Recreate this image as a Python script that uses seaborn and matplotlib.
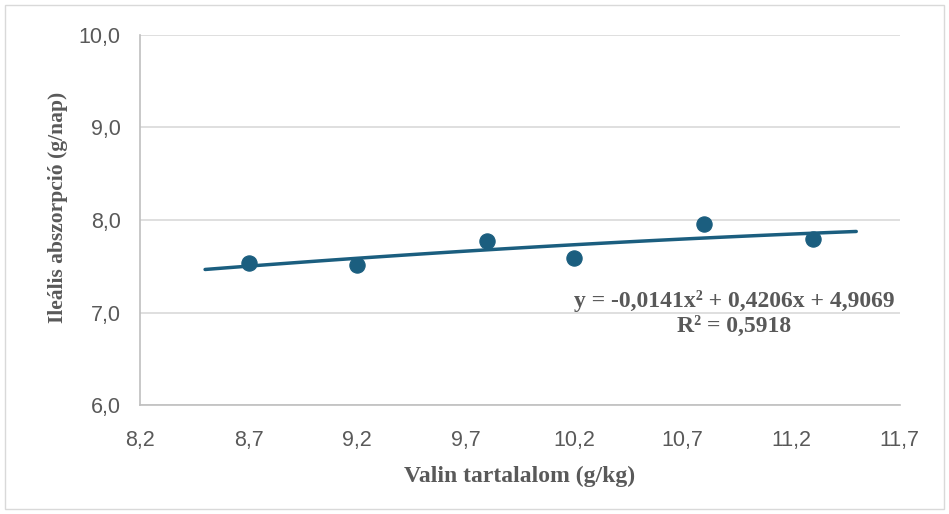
import numpy as np
import pandas as pd
import seaborn as sns
import matplotlib.pyplot as plt
from matplotlib.ticker import FuncFormatter, FixedLocator
from matplotlib.patches import Rectangle

# data
valin = [8.7, 9.2, 9.8, 10.2, 10.8, 11.3]
absz = [7.54, 7.51, 7.77, 7.59, 7.96, 7.79]
trend_range = [8.5, 11.5]
x_ticks = [8.2, 8.7, 9.2, 9.7, 10.2, 10.7, 11.2, 11.7]
y_ticks = [6.0, 7.0, 8.0, 9.0, 10.0]
eq_text = "y = -0,0141x² + 0,4206x + 4,9069\nR² = 0,5918"

df = pd.DataFrame({"valin": valin, "absz": absz})

# 2nd order trendline fitted to the points
coef = np.polyfit(df["valin"], df["absz"], 2)
xs = np.linspace(trend_range[0], trend_range[1], 100)
df_fit = pd.DataFrame({"x": xs, "y": np.polyval(coef, xs)})

sns.set_style("white")
plt.rcParams['font.family'] = ['Liberation Sans', 'DejaVu Sans']

col = "#1b5e7f"
grey = "#595959"

fig = plt.figure(figsize=(9.49, 5.14), dpi=100)
ax = fig.add_axes([0.1475, 0.212, 0.8005, 0.72])

sns.lineplot(data=df_fit, x="x", y="y", color=col, linewidth=2.5, ax=ax, zorder=2)
sns.scatterplot(data=df, x="valin", y="absz", color=col, s=120, edgecolor=col, ax=ax, zorder=3)

ax.set_xlim(x_ticks[0], x_ticks[-1])
ax.set_ylim(y_ticks[0], y_ticks[-1])
ax.xaxis.set_major_locator(FixedLocator(x_ticks))
ax.yaxis.set_major_locator(FixedLocator(y_ticks))
fmt = FuncFormatter(lambda v, p: f"{v:.1f}".replace(".", ","))
ax.xaxis.set_major_formatter(fmt)
ax.yaxis.set_major_formatter(fmt)
ax.grid(axis="y", color="#d9d9d9", linewidth=1.2)
ax.set_axisbelow(True)
for s in ["top", "right"]:
    ax.spines[s].set_visible(False)
for s in ["left", "bottom"]:
    ax.spines[s].set_color("#bfbfbf")
    ax.spines[s].set_linewidth(1.2)
ax.tick_params(length=0, labelsize=15.5, labelcolor=grey, pad=14)
ax.tick_params(axis="x", pad=18)

lab_font = dict(family="Liberation Serif", fontweight="bold", fontsize=17, color=grey)
ax.set_xlabel("Valin tartalalom (g/kg)", **lab_font)
ax.xaxis.set_label_coords(0.5, -0.165)
ax.set_ylabel("Ileális abszorpció (g/nap)", **{**lab_font, "fontsize": 15.5})
ax.yaxis.set_label_coords(-0.095, 0.535)

ax.text(10.937, 6.985, eq_text, ha="center", va="center", ma="center",
        linespacing=1.25, **lab_font)

fig.patches.append(Rectangle((5 / 949, 5 / 514), 939 / 949, 504 / 514, transform=fig.transFigure,
                             fill=False, edgecolor="#d9d9d9", linewidth=1))

fig.savefig("out.png", dpi=100)
